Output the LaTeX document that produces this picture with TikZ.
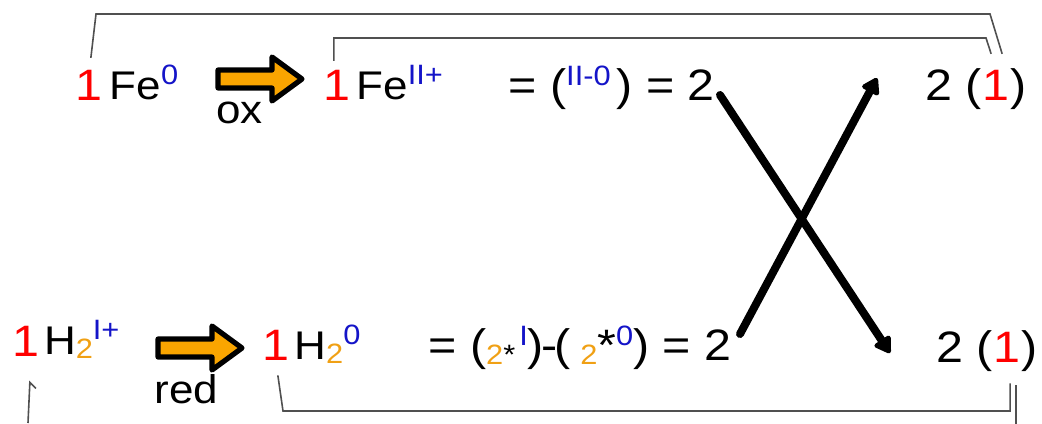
\documentclass[tikz,border=0pt]{standalone}
\usepackage{fontspec}
\setmainfont{Liberation Sans}[FakeStretch=1.1]
\usetikzlibrary{arrows.meta}
\definecolor{coefred}{RGB}{255,0,0}
\definecolor{oxblue}{RGB}{20,20,200}
\definecolor{idxorange}{RGB}{240,160,20}
\definecolor{arrowfill}{RGB}{250,165,0}
\definecolor{bondgray}{RGB}{80,80,80}
\newcommand\hi[1]{\raisebox{7.5pt}{\fontsize{14}{14}\selectfont\color{oxblue}#1}}
\newcommand\lo[1]{\raisebox{-2pt}{\fontsize{14}{14}\selectfont\color{idxorange}#1}}
\tikzset{
  big/.style={anchor=base west,inner sep=0pt,font=\fontsize{22}{22}\selectfont},
  coef/.style={big,text=coefred},
  species/.style={anchor=base west,inner sep=0pt,font=\fontsize{20}{20}\selectfont},
  bond/.style={draw=bondgray,line width=0.8pt},
  cross/.style={line width=4pt,line cap=round,-{Triangle[length=9pt,width=10.5pt,round]}},
  redox/.pic={\draw[line width=2.6pt,fill=arrowfill,line join=round]
    (0,-9) -- (54,-9) -- (54,-22) -- (84,0) -- (54,22) -- (54,9) -- (0,9) -- cycle;}
}

\begin{document}
\begin{tikzpicture}[x=0.5pt,y=-0.5pt]
\useasboundingbox (0,0) rectangle (1042,423);
% oxidation
\node[coef] (c1) at (75,100) {1};
\node[species] (fe0) at (109.5,99) {Fe\hi{0}};
\pic at (218,79) {redox};
\node[species] (ox) at (216,123) {ox};
\node[coef] (c2) at (323,100) {1};
\node[species] (fe2) at (356,99) {Fe\hi{II+}};
\node[big] (eqox) at (508,100) {= (\hi{II-0}\kern3pt) = 2};
\node[big] (twoox) at (925,100) {2 (};
\node[coef,at=(twoox.base east)] (c5) {1};
\node[big,at=(c5.base east)] (clox) {)};
% reduction
\node[coef] (c3) at (12,356) {1};
\node[species] (h2a) at (43.6,354) {H\lo{2}\hi{I+}};
\pic at (158,348) {redox};
\node[species] (red) at (154,403) {red};
\node[coef] (c4) at (262,360) {1};
\node[species] (h2b) at (294,359) {H\lo{2}\hi{0}};
\node[big] (eqred) at (428,360)
  {= (\lo{2\textcolor{black}{*}}\kern2pt\hi{I})\kern-1.5pt-\kern-1.5pt(\kern5pt\lo{2}*\hi{0}) = 2};
\node[big] (twored) at (936,362) {2 (};
\node[coef,at=(twored.base east)] (c6) {1};
\node[big,at=(c6.base east)] (clred) {)};
% electron swap
\coordinate (x1s) at (720,95);
\coordinate (x1e) at (890,353);
\coordinate (x2s) at (740,334);
\coordinate (x2e) at (877,78);
\draw[cross] (x1s) -- (x1e);
\draw[cross] (x2s) -- (x2e);
% bonds
\draw[bond] ([shift={(2,-11.5)}]c1.north) -- (96,14) -- (990,14) -- ([shift={(6,-15.5)}]c5.north);
\draw[bond] ([shift={(-3,-8.5)}]c2.north) |- (986,38) -- ([shift={(-5,-15.5)}]c5.north);
\draw[bond] ([shift={(2,15)}]c4.south) -- (283,411) -| ([shift={(3,21)}]c6.south);
\draw[bond] ([shift={(10,32)}]c3.south) -- ++(-6,-6) -- (28,423);
\draw[bond] ([shift={(9,23)}]c6.south) -- ++(0,40);
\end{tikzpicture}
\end{document}
